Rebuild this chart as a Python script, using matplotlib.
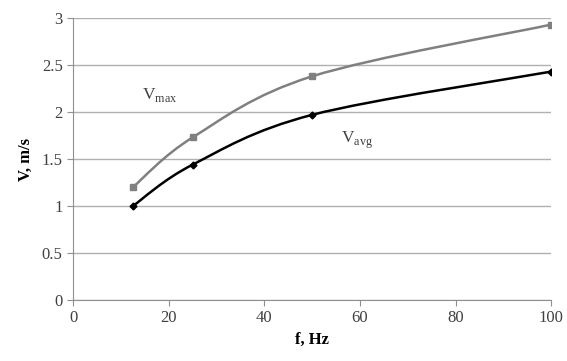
import numpy as np
import matplotlib.pyplot as plt
from matplotlib.path import Path
from matplotlib.patches import PathPatch

plt.rcParams['font.family'] = ['Liberation Serif', 'DejaVu Serif']
plt.rcParams['mathtext.fontset'] = 'custom'
plt.rcParams['mathtext.rm'] = 'Liberation Serif'

f_hz = [12.5, 25, 50, 100]
v_max = [1.20, 1.73, 2.38, 2.93]
v_avg = [1.00, 1.44, 1.97, 2.43]


# Excel-style smoothed line (Catmull-Rom -> cubic Bezier)
def smooth_path(x, y):
    x = np.asarray(x, float)
    y = np.asarray(y, float)
    verts = [(x[0], y[0])]
    codes = [Path.MOVETO]
    n = len(x)
    for i in range(n - 1):
        x0, y0 = (x[i - 1], y[i - 1]) if i > 0 else (x[i], y[i])
        x3, y3 = (x[i + 2], y[i + 2]) if i + 2 < n else (x[i + 1], y[i + 1])
        c1 = (x[i] + (x[i + 1] - x0) / 6, y[i] + (y[i + 1] - y0) / 6)
        c2 = (x[i + 1] - (x3 - x[i]) / 6, y[i + 1] - (y3 - y[i]) / 6)
        verts += [c1, c2, (x[i + 1], y[i + 1])]
        codes += [Path.CURVE4] * 3
    return Path(verts, codes)


fig = plt.figure(figsize=(5.67, 3.61), dpi=100)
ax = fig.add_axes([0.129, 0.169, 0.843, 0.781])

ax.add_patch(PathPatch(smooth_path(f_hz, v_max), fill=False, edgecolor="#808080", lw=1.8))
ax.add_patch(PathPatch(smooth_path(f_hz, v_avg), fill=False, edgecolor="black", lw=1.8))
ax.plot(f_hz, v_max, ls="none", marker="s", ms=4.5, color="#808080")
ax.plot(f_hz, v_avg, ls="none", marker="D", ms=3.5, color="black")

ax.set_xlim(0, 100)
ax.set_ylim(0, 3)
ax.set_xticks(range(0, 101, 20))
ax.set_yticks([0, 0.5, 1, 1.5, 2, 2.5, 3])
ax.set_yticklabels(["0", "0.5", "1", "1.5", "2", "2.5", "3"])
ax.grid(axis="y", color="#b0b0b0", lw=1)
ax.set_axisbelow(True)
for s in ["top", "right"]:
    ax.spines[s].set_visible(False)
for s in ["left", "bottom"]:
    ax.spines[s].set_color("#909090")
ax.tick_params(colors="#909090", labelcolor="#404040", labelsize=12, length=4, direction="out")

ax.set_xlabel("f, Hz", fontsize=12, fontweight="bold", labelpad=4)
ax.set_ylabel("V, m/s", fontsize=12, fontweight="bold", labelpad=6)

ax.text(14.5, 2.18, "V$_{\\mathrm{max}}$", fontsize=12.5, color="#404040", va="center")
ax.text(56, 1.70, "V$_{\\mathrm{avg}}$", fontsize=12.5, color="#404040", va="center")

fig.savefig("out.png", dpi=100)
